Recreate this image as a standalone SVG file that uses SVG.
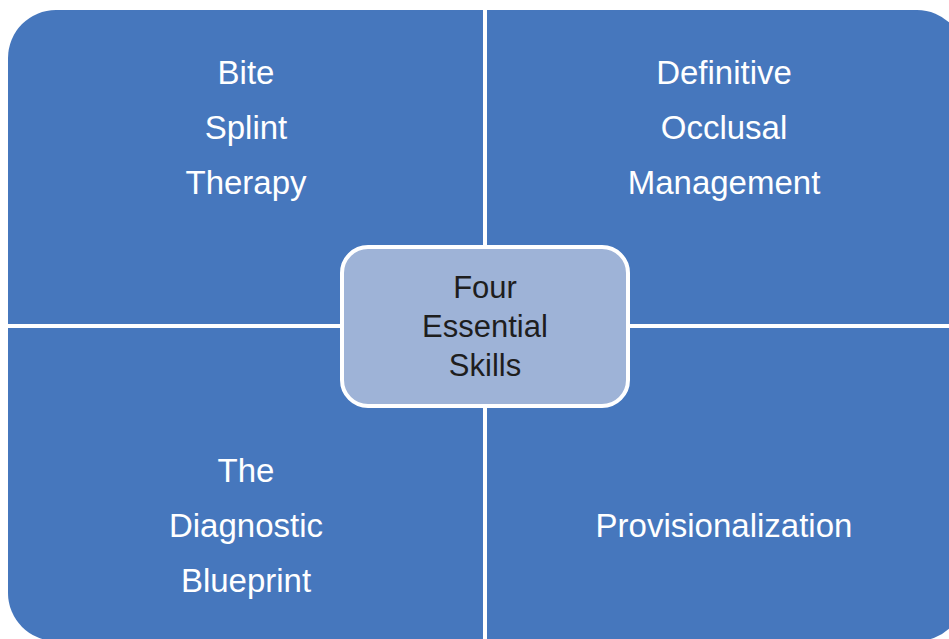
<svg xmlns="http://www.w3.org/2000/svg" width="949" height="639" viewBox="0 0 949 639">
<style>
.q{fill:#4677BD;}
.t{font-family:"Liberation Sans",Arial,sans-serif;font-size:33px;fill:#FFFFFF;text-anchor:middle;}
.c{font-family:"Liberation Sans",Arial,sans-serif;font-size:31px;fill:#1E1E1E;text-anchor:middle;}
</style>
<rect width="949" height="639" fill="#FFFFFF"/>
<g id="connectors"></g>
<g id="q-top-left">
<path class="q" d="M8,58 A48,48 0 0 1 56,10 L483,10 L483,324 L8,324 Z"/>
<text class="t" x="246" y="84">Bite</text>
<text class="t" x="246" y="139">Splint</text>
<text class="t" x="246" y="194">Therapy</text>
</g>
<g id="q-top-right">
<path class="q" d="M487,10 L917,10 A48,48 0 0 1 965,58 L965,324 L487,324 Z"/>
<text class="t" x="724" y="84">Definitive</text>
<text class="t" x="724" y="139">Occlusal</text>
<text class="t" x="724" y="194">Management</text>
</g>
<g id="q-bottom-left">
<path class="q" d="M8,328 L483,328 L483,641 L56,641 A48,48 0 0 1 8,593 Z"/>
<text class="t" x="246" y="482">The</text>
<text class="t" x="246" y="537">Diagnostic</text>
<text class="t" x="246" y="592">Blueprint</text>
</g>
<g id="q-bottom-right">
<path class="q" d="M487,328 L965,328 L965,593 A48,48 0 0 1 917,641 L487,641 Z"/>
<text class="t" x="724" y="537">Provisionalization</text>
</g>
<g id="center">
<rect x="342" y="247" width="286" height="159" rx="26" ry="26" fill="#9EB3D7" stroke="#FFFFFF" stroke-width="4"/>
<text class="c" x="485" y="298">Four</text>
<text class="c" x="485" y="337">Essential</text>
<text class="c" x="485" y="376">Skills</text>
</g>
</svg>
